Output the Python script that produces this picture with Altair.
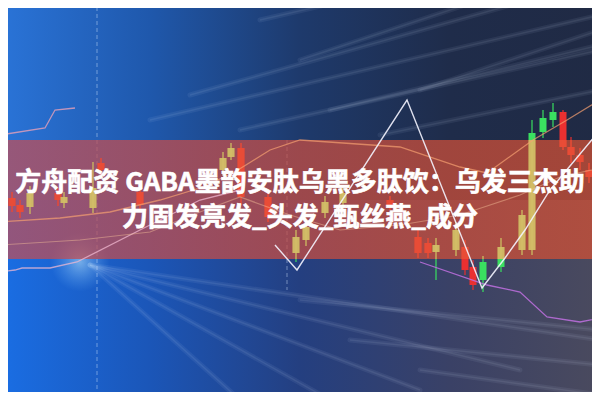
import altair as alt
import pandas as pd

# ---------------- data ----------------
# candlesticks (reference pixel space: x right, y down)
cx    = [2, 12, 20, 30, 58, 64, 93, 101, 140, 223, 231, 241, 268, 296, 306, 325, 343, 390,
         418, 428, 436, 456, 465, 473, 483, 501, 522, 532, 543, 553, 563, 571, 580, 589, 598]
c_top = [195, 198, 205, 193, 193, 197, 188, 163, 192, 158, 148, 148, 197, 237, 227, 202, 193, 200,
         237, 243, 245, 230, 247, 267, 262, 247, 215, 133, 118, 112, 112, 147, 155, 170, 180]
c_bot = [208, 206, 212, 207, 200, 203, 208, 170, 205, 170, 157, 197, 217, 253, 240, 213, 203, 206,
         253, 253, 252, 250, 270, 285, 280, 267, 250, 250, 132, 120, 147, 155, 162, 177, 188]
w_top = [188, 192, 200, 186, 188, 192, 162, 158, 186, 152, 143, 143, 190, 230, 220, 196, 188, 196,
         230, 238, 238, 222, 240, 260, 256, 238, 210, 120, 110, 103, 110, 137, 148, 163, 175]
w_bot = [215, 212, 218, 214, 206, 208, 213, 176, 210, 176, 160, 205, 222, 262, 246, 218, 208, 210,
         258, 258, 280, 256, 275, 290, 292, 272, 255, 255, 138, 127, 150, 163, 170, 183, 192]
c_dir = ["up", "down", "down", "up", "down", "up", "up", "down", "down", "up", "up", "down", "down",
         "up", "up", "up", "up", "down", "down", "down", "up", "up", "down", "down", "up", "up",
         "up", "up", "up", "up", "down", "down", "down", "down", "up"]

# lines
line_white_x = [275, 297, 407, 482, 505, 525, 550, 600]
line_white_y = [245, 270, 100, 288, 258, 230, 190, 130]
line_orange_x = [0, 60, 110, 160, 200, 233, 270, 300, 400, 460, 487, 533, 567, 600]
line_orange_y = [222, 218, 212, 200, 188, 173, 150, 140, 147, 167, 173, 140, 120, 100]
line_peach_x = [0, 80, 150, 200, 240, 290, 340, 400, 460, 520, 560, 600]
line_peach_y = [245, 240, 232, 212, 197, 215, 230, 225, 215, 195, 177, 168]
line_pale1_x = [0, 45, 55, 75]
line_pale1_y = [135, 128, 110, 108]
line_pale2_x = [0, 15, 22, 50, 77, 140, 200, 240]
line_pale2_y = [272, 270, 268, 268, 262, 230, 200, 190]
line_purple_x = [420, 487, 520, 547, 580, 600]
line_purple_y = [262, 285, 292, 317, 322, 318]

# light streaks of the photographic background
streak_x1 = [150, 190, 240, 300, 260, 330, 380, 420, 90, 90, 90, 90, 90, 300, 350, 420]
streak_y1 = [120, 95, 130, 60, 20, 110, 135, 90, 265, 265, 265, 265, 265, 300, 340, 370]
streak_x2 = [600, 600, 600, 600, 520, 600, 600, 600, 240, 330, 420, 520, 600, 600, 600, 600]
streak_y2 = [15, -20, 50, -40, -40, 45, 90, 30, 400, 400, 390, 370, 340, 330, 365, 395]

band_top, band_bot = 140, 259

title_1 = "方舟配资 GABA墨韵安肽乌黑多肽饮：乌发三杰助"
title_2 = "力固发亮发_头发_甄丝燕_成分"

# ---------------- helpers ----------------
XS = alt.Scale(domain=[8, 592])
YS = alt.Scale(domain=[8, 392], reverse=True)

def X(f="x"):
    return alt.X(f"{f}:Q", scale=XS, axis=None)

def Y(f="y"):
    return alt.Y(f"{f}:Q", scale=YS, axis=None)

def grad(cols, x2=1, y2=0):
    n = len(cols) - 1
    return alt.LinearGradient(
        gradient="linear",
        stops=[alt.GradientStop(offset=i / n, color=c) for i, c in enumerate(cols)],
        x1=0, x2=x2, y1=0, y2=y2,
    )

def strip(y0, y1, cols, op=1.0):
    d = pd.DataFrame({"x": [0], "x2": [600], "y": [y0], "y2": [y1]})
    return alt.Chart(d).mark_rect(clip=True, opacity=op, color=grad(cols)).encode(
        x=X(), x2="x2:Q", y=Y(), y2="y2:Q")

bg_top = strip(0, 200, ["#2a74d8", "#1f58ac", "#1e3a6c", "#1f2c4a", "#202a44"])
bg_bot = strip(200, 400, ["#1a6ee4", "#1b56b8", "#243f80", "#3a4166", "#4a4a5e"])

sdf = pd.DataFrame({"x": streak_x1, "y": streak_y1, "x2": streak_x2, "y2": streak_y2})
streaks = alt.Chart(sdf).mark_rule(
    clip=True, color="#cfe4ff", opacity=0.07, strokeWidth=5, strokeCap="round"
).encode(x=X(), y=Y(), x2="x2:Q", y2="y2:Q")
streaks_thin = alt.Chart(sdf).mark_rule(
    clip=True, color="#e6f0ff", opacity=0.08, strokeWidth=1.5
).encode(x=X(), y=Y(), x2="x2:Q", y2="y2:Q")

glow_df = pd.DataFrame({"x": [80], "y": [262], "s": [3500]})
glow = alt.Chart(glow_df).mark_circle(
    clip=True, opacity=1,
    color=alt.RadialGradient(
        gradient="radial",
        stops=[alt.GradientStop(offset=0, color="rgba(190,235,255,0.55)"),
               alt.GradientStop(offset=1, color="rgba(120,190,255,0)")],
        r1=0, r2=0.5, x1=0.5, y1=0.5, x2=0.5, y2=0.5,
    ),
).encode(x=X(), y=Y(), size=alt.Size("s:Q", scale=None, legend=None))

vdf = pd.DataFrame({"x": [97, 287], "y": [0, 140], "y2": [400, 290]})
vlines = alt.Chart(vdf).mark_rule(
    clip=True, color="#d8e6ff", opacity=0.45, strokeDash=[4, 3], strokeWidth=1
).encode(x=X(), y=Y(), y2="y2:Q")

cdf = pd.DataFrame({"x": cx, "top": c_top, "bot": c_bot, "wt": w_top, "wb": w_bot, "dir": c_dir})
cdf["xl"] = cdf["x"] - 3.5
cdf["xr"] = cdf["x"] + 3.5

cscale = alt.Scale(domain=["up", "down", "up_in", "down_in"],
                   range=["#3ae060", "#ea3030", "#d4c068", "#ea4c36"])
col = alt.Color("k:N", scale=cscale, legend=None)

base_c = alt.Chart(cdf).transform_calculate(k="datum.dir")
wicks = base_c.mark_rule(clip=True, strokeWidth=1.2).encode(x=X(), y=Y("wt"), y2="wb:Q", color=col)
bodies = base_c.mark_rect(clip=True).encode(x=X("xl"), x2="xr:Q", y=Y("top"), y2="bot:Q", color=col)

inband = alt.Chart(cdf).transform_calculate(
    k="datum.dir + '_in'",
    t=f"max(datum.top, {band_top})", b=f"min(datum.bot, {band_bot})",
    wt2=f"max(datum.wt, {band_top})", wb2=f"min(datum.wb, {band_bot})",
)
wicks_in = inband.transform_filter("datum.wt2 < datum.wb2").mark_rule(
    clip=True, strokeWidth=1.2, opacity=0.9).encode(x=X(), y=Y("wt2"), y2="wb2:Q", color=col)
bodies_in = inband.transform_filter("datum.t < datum.b").mark_rect(clip=True, opacity=0.9).encode(
    x=X("xl"), x2="xr:Q", y=Y("t"), y2="b:Q", color=col)

band_df = pd.DataFrame({"x": [0], "x2": [600], "y": [band_top], "y2": [band_bot]})
band = alt.Chart(band_df).mark_rect(
    clip=True, opacity=0.74, color=grad(["#bc4e5a", "#c44c48", "#cc4e3a", "#d25034"])
).encode(x=X(), x2="x2:Q", y=Y(), y2="y2:Q")

def mkline(xs, ys, color, width, op):
    d = pd.DataFrame({"x": xs, "y": ys, "o": list(range(len(xs)))})
    return alt.Chart(d).mark_line(clip=True, color=color, strokeWidth=width, opacity=op).encode(
        x=X(), y=Y(), order="o:Q")

lines = [
    mkline(line_pale1_x, line_pale1_y, "#e8a0b8", 1.3, 0.8),
    mkline(line_pale2_x, line_pale2_y, "#f0b8d0", 1.3, 0.75),
    mkline(line_peach_x, line_peach_y, "#f6c09a", 1.2, 0.45),
    mkline(line_orange_x, line_orange_y, "#f5a070", 1.3, 0.7),
    mkline(line_purple_x, line_purple_y, "#c070e0", 1.3, 0.85),
    mkline(line_white_x, line_white_y, "#f4f4ff", 1.4, 0.9),
]

tdf = pd.DataFrame({"x": [300, 300], "y": [183, 218], "t": [title_1, title_2]})
text = alt.Chart(tdf).mark_text(
    font="Noto Sans CJK SC", fontSize=26, fontWeight="bold", color="#ffffff",
    align="center", baseline="middle", stroke="#ffffff", strokeWidth=0.6,
).encode(x=X(), y=Y(), text="t:N")

chart = alt.layer(
    bg_top, bg_bot, streaks, streaks_thin, glow, vlines, wicks, bodies, band, wicks_in, bodies_in, *lines, text
).properties(width=584, height=384, padding=0, autosize="none", background="#1e3a6a").configure_view(stroke=None)

chart.save("out.html", embed_options={"renderer": "svg", "actions": False})
